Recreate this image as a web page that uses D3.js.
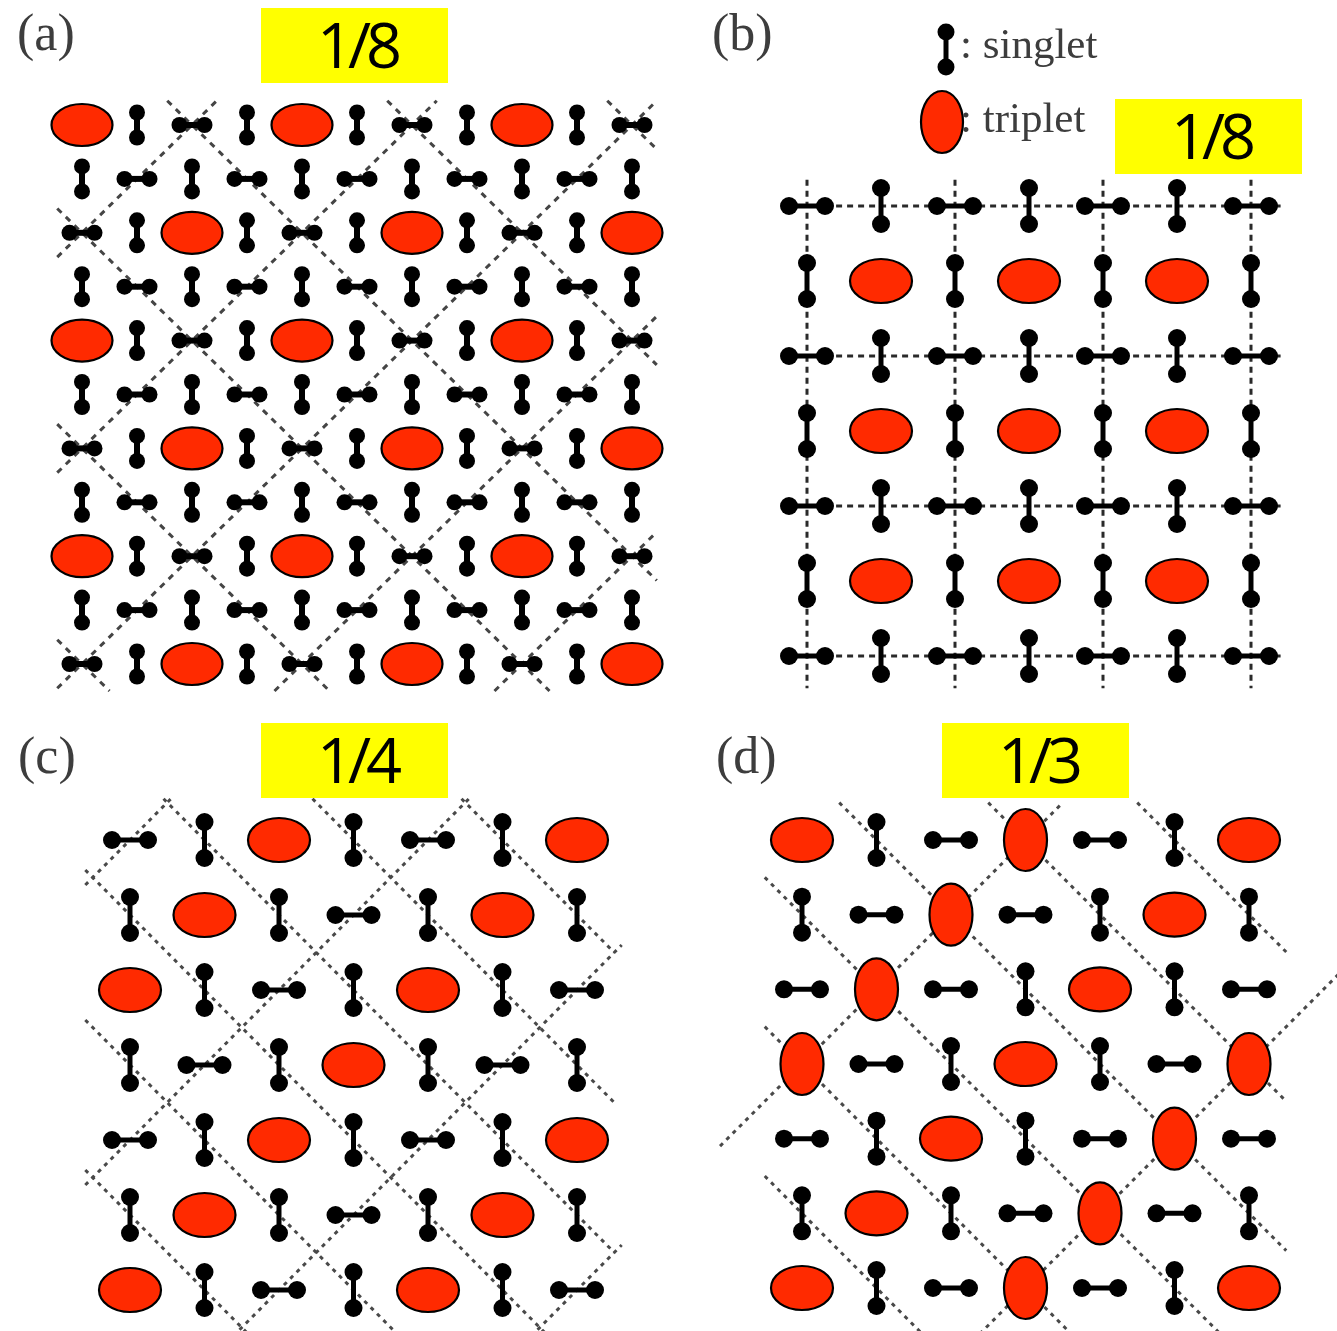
<!DOCTYPE html>
<html><head><meta charset="utf-8">
<script src="https://cdn.jsdelivr.net/npm/d3@7"></script>
<style>body{margin:0;background:#fff}</style>
</head><body>
<svg id="chart" width="1337" height="1331"></svg>
<script>
// ---------------- data ----------------
const panelLabels = ["(a)", "(b)", "(c)", "(d)"];
const fractionLabels = ["1/8", "1/8", "1/4", "1/3"];
const legendLabels = [": singlet", ": triplet"];
// cell codes: E = triplet (horizontal), U = triplet (upright), H = horizontal singlet, V = vertical singlet
const rowsA = [
  "EVHVEVHVEVH",
  "VHVHVHVHVHV",
  "HVEVHVEVHVE",
  "VHVHVHVHVHV",
  "EVHVEVHVEVH",
  "VHVHVHVHVHV",
  "HVEVHVEVHVE",
  "VHVHVHVHVHV",
  "EVHVEVHVEVH",
  "VHVHVHVHVHV",
  "HVEVHVEVHVE"
];
const rowsB = [
  "HVHVHVH",
  "VEVEVEV",
  "HVHVHVH",
  "VEVEVEV",
  "HVHVHVH",
  "VEVEVEV",
  "HVHVHVH"
];
const rowsC = [
  "HVEVHVE",
  "VEVHVEV",
  "EVHVEVH",
  "VHVEVHV",
  "HVEVHVE",
  "VEVHVEV",
  "EVHVEVH"
];
const rowsD = [
  "EVHUHVE",
  "VHUHVEV",
  "HUHVEVH",
  "UHVEVHU",
  "HVEVHUH",
  "VEVHUHV",
  "EVHUHVE"
];
// dashed guide lines, in lattice units: "slash" lines c+r=k, "back" lines c-r=k
const slashA = [2, 6, 10, 14, 18];
const backA = [-10, -6, -2, 2, 6, 10];
const slashC = [0, 4, 8, 12];
const backC = [-5, -3, -1, 1, 3, 5];
const slashD = [3, 9];
const backD = [-5, -3, -1, 1, 3, 5];
const gridRowsB = [0, 2, 4, 6];
const gridColsB = [0, 2, 4, 6];

// ---------------- layout ----------------
const svg = d3.select("#chart");
svg.append("rect").attr("width", 1337).attr("height", 1331).attr("fill", "#fff");
const defs = svg.append("defs");
defs.append("filter").attr("id", "soft").attr("x", "-20%").attr("y", "-20%").attr("width", "140%").attr("height", "140%")
  .append("feGaussianBlur").attr("stdDeviation", 0.7);
defs.append("filter").attr("id", "softLine")
  .append("feGaussianBlur").attr("stdDeviation", 0.45);
defs.append("filter").attr("id", "softText")
  .append("feGaussianBlur").attr("stdDeviation", 0.5);

const RED = "#ff2a00";

const panels = [
  { rows: rowsA, xr: [82, 632], yr: [125, 664], slash: slashA, back: backA,
    clipS: { c: [-0.45, 10.45], r: [-0.45, 10.5] }, clipB: { c: [-0.45, 10.45], r: [-0.45, 10.5] },
    dim: { r: 8, h: 12.5, w: 6 }, ell: { rx: 30.5, ry: 21 },
    line: { color: "#444", w: 3, dash: "6,6" },
    label: { x: 17, y: 50 }, box: { x: 261, y: 8 } },
  { rows: rowsB, xr: [807, 1251], yr: [206, 656],
    dim: { r: 9, h: 18, w: 5 }, ell: { rx: 31, ry: 22 },
    line: { color: "#2a2a2a", w: 3, dash: "6,5" },
    label: { x: 712, y: 50 }, box: { x: 1115, y: 99 } },
  { rows: rowsC, xr: [130, 577], yr: [840, 1290], slash: slashC, back: backC,
    clipS: { c: [-0.6, 6.6], r: [-0.55, 6.7] }, clipB: { c: [-0.6, 6.5], r: [-0.55, 6.7] },
    dim: { r: 9, h: 18, w: 5 }, ell: { rx: 31, ry: 22 },
    line: { color: "#4a4a4a", w: 3, dash: "4,5" },
    label: { x: 18, y: 773 }, box: { x: 261, y: 723 } },
  { rows: rowsD, xr: [802, 1249], yr: [840, 1288], slash: slashD, back: backD,
    clipS: { c: [-1.1, 7.2], r: [-0.5, 6.7] }, clipB: { c: [-0.5, 6.5], r: [-0.5, 6.7] },
    dim: { r: 9, h: 18, w: 5 }, ell: { rx: 31, ry: 22 },
    line: { color: "#4a4a4a", w: 3, dash: "4,5" },
    label: { x: 716, y: 773 }, box: { x: 942, y: 723 } }
];

function drawDimer(g, x, y, orient, d) {
  const dx = orient === "H" ? d.h : 0, dy = orient === "V" ? d.h : 0;
  g.append("line").attr("x1", x - dx).attr("y1", y - dy).attr("x2", x + dx).attr("y2", y + dy)
    .attr("stroke", "#000").attr("stroke-width", d.w);
  g.append("circle").attr("cx", x - dx).attr("cy", y - dy).attr("r", d.r).attr("fill", "#000");
  g.append("circle").attr("cx", x + dx).attr("cy", y + dy).attr("r", d.r).attr("fill", "#000");
}
function drawTriplet(g, x, y, rx, ry) {
  g.append("ellipse").attr("cx", x).attr("cy", y).attr("rx", rx).attr("ry", ry)
    .attr("fill", RED).attr("stroke", "#000").attr("stroke-width", 2.2);
}
function segSlash(k, cl) { // c + r = k
  const lo = Math.max(cl.c[0], k - cl.r[1]), hi = Math.min(cl.c[1], k - cl.r[0]);
  return lo < hi ? [[lo, k - lo], [hi, k - hi]] : null;
}
function segBack(k, cl) { // c - r = k
  const lo = Math.max(cl.c[0], cl.r[0] + k), hi = Math.min(cl.c[1], cl.r[1] + k);
  return lo < hi ? [[lo, lo - k], [hi, hi - k]] : null;
}

panels.forEach((p, i) => {
  const nC = p.rows[0].length, nR = p.rows.length;
  const x = d3.scaleLinear().domain([0, nC - 1]).range(p.xr);
  const y = d3.scaleLinear().domain([0, nR - 1]).range(p.yr);
  const gl = svg.append("g").attr("filter", "url(#softLine)")
    .attr("stroke", p.line.color).attr("stroke-width", p.line.w).attr("stroke-dasharray", p.line.dash).attr("fill", "none");
  const lineGen = d3.line().x(d => x(d[0])).y(d => y(d[1]));
  if (i === 1) {
    gridRowsB.forEach(r => gl.append("path").attr("d", lineGen([[-0.35, r], [6.4, r]])));
    gridColsB.forEach(c => gl.append("path").attr("d", lineGen([[c, -0.35], [c, 6.43]])));
  } else {
    p.slash.forEach(k => { const s = segSlash(k, p.clipS); if (s) gl.append("path").attr("d", lineGen(s)); });
    p.back.forEach(k => { const s = segBack(k, p.clipB); if (s) gl.append("path").attr("d", lineGen(s)); });
  }
  const gd = svg.append("g").attr("filter", "url(#soft)");
  const ge = svg.append("g");
  p.rows.forEach((row, r) => {
    row.split("").forEach((ch, c) => {
      if (ch === "H" || ch === "V") drawDimer(gd, x(c), y(r), ch, p.dim);
      else if (ch === "E") drawTriplet(ge, x(c), y(r), p.ell.rx, p.ell.ry);
      else if (ch === "U") drawTriplet(ge, x(c), y(r), p.ell.ry - 0.5, p.ell.rx);
    });
  });
  // panel label
  svg.append("text").attr("x", p.label.x).attr("y", p.label.y)
    .attr("font-family", "'Liberation Serif','Times New Roman',serif").attr("font-size", 52)
    .attr("fill", "#3c3c3c").attr("filter", "url(#softText)").text(panelLabels[i]);
  // fraction box
  svg.append("rect").attr("x", p.box.x).attr("y", p.box.y).attr("width", 187).attr("height", 75).attr("fill", "#ffff00");
  svg.append("text").attr("x", p.box.x + 96).attr("y", p.box.y + 60)
    .attr("font-family", "'Open Sans','Noto Sans',sans-serif").attr("font-size", 63)
    .attr("letter-spacing", -5).attr("fill", "#000").attr("text-anchor", "middle")
    .text(fractionLabels[i]);
});

// legend in (b)
const gLeg = svg.append("g").attr("filter", "url(#soft)");
drawDimer(gLeg, 946, 49.5, "V", { r: 8.5, h: 17.5, w: 5 });
drawTriplet(svg, 942, 122, 21, 31);
legendLabels.forEach((s, j) => {
  svg.append("text").attr("x", 960).attr("y", j === 0 ? 58 : 132)
    .attr("font-family", "'Liberation Serif','Times New Roman',serif").attr("font-size", 43)
    .attr("fill", "#3c3c3c").attr("filter", "url(#softText)").text(s);
});
</script>
</body></html>
